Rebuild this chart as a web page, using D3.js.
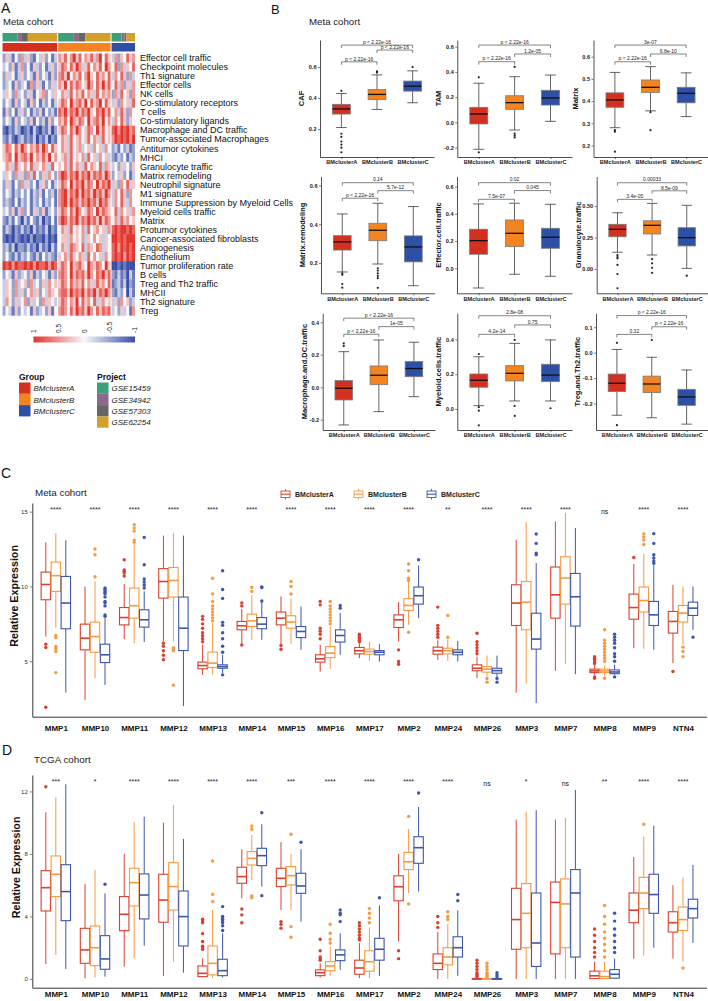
<!DOCTYPE html>
<html>
<head>
<meta charset="utf-8">
<script src="https://cdn.jsdelivr.net/npm/d3@7"></script>
<style>
  body { margin: 0; background: #fff; }
  svg { display: block; font-family: "Liberation Sans", Arial, sans-serif; }
</style>
</head>
<body>
<div id="fig"></div>
<script>
// ---------------- data ----------------
const groups = ["BMclusterA", "BMclusterB", "BMclusterC"];
const projects = ["GSE15459", "GSE34942", "GSE57303", "GSE62254"];
// samples per project inside each group (A, B, C)
const projectCounts = [[70, 22, 28, 139], [74, 21, 33, 120], [48, 13, 9, 41]];

const heatRows = ["Effector cell traffic", "Checkpoint molecules", "Th1 signature", "Effector cells", "NK cells",
  "Co-stimulatory receptors", "T cells", "Co-stimulatory ligands", "Macrophage and DC traffic",
  "Tumor-associated Macrophages", "Antitumor cytokines", "MHCI", "Granulocyte traffic", "Matrix remodeling",
  "Neutrophil signature", "M1 signature", "Immune Suppression by Myeloid Cells", "Myeloid cells traffic", "Matrix",
  "Protumor cytokines", "Cancer-associated fibroblasts", "Angiogenesis", "Endothelium", "Tumor proliferation rate",
  "B cells", "Treg and Th2 traffic", "MHCII", "Th2 signature", "Treg"];
// z-scores coded 0..8 (0 = -1, 4 = 0, 8 = +1), read across each group block
const heatA = ["253142635214352413", "342513624153241352", "253413524315243152", "234152341625314253",
  "354263425314562435", "243152431524132413", "152413524132514231", "243152432514231524", "102132012031021302",
  "213102312130213021", "576475864657386475", "567485675846575846", "465375464735465374", "354263526374253642",
  "253142635241352413", "243132424132514231", "232141324132413241", "342513624153251342", "213142031421302141",
  "132021312031213021", "101021010201102010", "231302213120312031", "242131324213142321", "878687787868778687",
  "243152342513243152", "354263452634253645", "354263524635243654", "364253462534263543", "243152434152342514"];
const heatB = ["657468574657368475", "576475863574657486", "675846574685475647", "658475764586475857",
  "465374657465374656", "576485675847568475", "768576857685476857", "657486576485675846", "576475864576485745",
  "465374564574653745", "465374563453645364", "456374546374536453", "546374653746547365", "687576857685767586",
  "576485768576485768", "678576858675867586", "678586757686758675", "576475864576485765", "687576857686758576",
  "465374546374564536", "455364546354645354", "465376547365476354", "546375465374645364", "576485675486576485",
  "676485767586476857", "576475657465375647", "677586768576857686", "576465847564735645", "676475867586475767"];
const heatC = ["36254736", "47263547", "36475263", "47362536", "26374526", "35264537", "46375264", "36475254",
  "78687867", "68787868", "23142312", "21324132", "34253425", "24352413", "35264735", "36475264", "36475364",
  "47364536", "46375645", "78788787", "88787888", "78687878", "78786878", "00101000", "21312031", "12313021",
  "21324031", "35264523", "34253416"];
const legendTicks = ["1", "0.5", "0", "-0.5", "-1"];

// panel B: 3x3 boxplots, stats per group = [low whisker, q1, median, q3, high whisker]
const bNames = ["CAF", "TAM", "Matrix", "Matrix.remodeling", "Effector.cell.traffic", "Granulocyte.traffic",
  "Macrophage.and.DC.traffic", "Myeloid.cells.traffic", "Treg.and.Th2.traffic"];
const bTicks = [["0.2", "0.4", "0.6"], ["-0.2", "0.0", "0.2", "0.4", "0.6"], ["0.2", "0.3", "0.4", "0.5", "0.6"],
  ["0.2", "0.4", "0.6"], ["0.0", "0.2", "0.4", "0.6"], ["0.00", "0.25", "0.50"],
  ["-0.2", "0.0", "0.2", "0.4"], ["0.0", "0.2", "0.4"], ["-0.2", "-0.1", "0.0", "0.1"]];
const bDomain = [[0.02, 0.775], [-0.275, 0.653], [0.148, 0.675], [0.044, 0.645], [-0.184, 0.673],
  [-0.193, 0.733], [-0.263, 0.455], [-0.121, 0.55], [-0.304, 0.155]];
const bStats = [
  [[0.21, 0.297, 0.33, 0.36, 0.43], [0.327, 0.39, 0.424, 0.455, 0.55], [0.37, 0.445, 0.477, 0.51, 0.576]],
  [[-0.214, -0.013, 0.066, 0.119, 0.31], [-0.061, 0.103, 0.156, 0.211, 0.362], [0.008, 0.137, 0.193, 0.254, 0.375]],
  [[0.28, 0.372, 0.405, 0.437, 0.529], [0.356, 0.439, 0.462, 0.495, 0.555], [0.33, 0.392, 0.435, 0.462, 0.527]],
  [[0.154, 0.267, 0.309, 0.341, 0.453], [0.195, 0.315, 0.369, 0.405, 0.508], [0.083, 0.206, 0.283, 0.34, 0.491]],
  [[-0.145, 0.103, 0.203, 0.287, 0.473], [-0.044, 0.159, 0.257, 0.355, 0.478], [-0.059, 0.147, 0.228, 0.294, 0.47]],
  [[0.133, 0.256, 0.315, 0.355, 0.447], [0.111, 0.278, 0.347, 0.383, 0.521], [0.005, 0.183, 0.249, 0.328, 0.506]],
  [[-0.232, -0.078, -0.006, 0.041, 0.219], [-0.15, 0.016, 0.074, 0.131, 0.291], [-0.058, 0.065, 0.115, 0.158, 0.277]],
  [[0.019, 0.125, 0.165, 0.201, 0.30], [0.046, 0.161, 0.205, 0.249, 0.377], [0.046, 0.157, 0.195, 0.257, 0.397]],
  [[-0.246, -0.153, -0.12, -0.084, 0.013], [-0.256, -0.157, -0.123, -0.092, -0.018], [-0.281, -0.207, -0.174, -0.144, -0.068]]
];
const bOutliers = [
  [[0.447, 0.17, 0.15, 0.12, 0.10, 0.08, 0.05], [0.565, 0.572], [0.60]],
  [[0.357, -0.238], [0.44, -0.09, -0.105, -0.12], []],
  [[0.269, 0.262, 0.172], [0.35, 0.269], []],
  [[0.147, 0.139, 0.092, 0.073], [0.173, 0.161, 0.147, 0.134, 0.122, 0.072], []],
  [[], [], []],
  [[0.11, 0.095, 0.085, 0.032, -0.04, -0.153], [0.079, 0.045, 0.01, -0.03], [-0.053]],
  [[0.27, 0.254], [], []],
  [[0.316, 0.01, -0.01, -0.094], [0.397, 0.017, -0.04], [0.004]],
  [[0.039, -0.285], [0.05], []]
];
// p labels for [A-B, B-C, A-C] and bracket heights
const bPvals = [
  ["p < 2.22e-16", "p < 2.22e-16", "p < 2.22e-16"], ["p < 2.22e-16", "1.2e-05", "p < 2.22e-16"],
  ["p < 2.22e-16", "6.8e-10", "3e-07"], ["p < 2.22e-16", "5.7e-12", "0.14"], ["7.5e-07", "0.045", "0.02"],
  ["3.4e-05", "8.5e-09", "0.00033"], ["p < 2.22e-16", "1e-05", "p < 2.22e-16"], ["4.2e-14", "0.75", "2.8e-08"],
  ["0.32", "p < 2.22e-16", "p < 2.22e-16"]];
const bBracketY = [[0.634, 0.71, 0.742], [0.481, 0.542, 0.613], [0.577, 0.612, 0.652], [0.534, 0.573, 0.614],
  [0.507, 0.571, 0.629], [0.553, 0.621, 0.685], [0.326, 0.373, 0.425], [0.429, 0.483, 0.536], [0.072, 0.102, 0.146]];

// panels C and D
const genes = ["MMP1", "MMP10", "MMP11", "MMP12", "MMP13", "MMP14", "MMP15", "MMP16", "MMP17", "MMP2",
  "MMP24", "MMP26", "MMP3", "MMP7", "MMP8", "MMP9", "NTN4"];
const metaSig = ["****", "****", "****", "****", "****", "****", "****", "****", "****", "****", "**", "****",
  "****", "****", "ns", "****", "****"];
const tcgaSig = ["***", "*", "****", "****", "****", "****", "***", "****", "****", "****", "****", "ns",
  "*", "ns", "**", "****", "****"];
const metaTicks = [5, 10, 15];
const tcgaTicks = [0, 4, 8, 12];
const metaStats = [
  [[6.65, 9.11, 10.13, 10.96, 12.95], [7.25, 9.67, 10.72, 11.63, 13.57], [2.9, 7.17, 8.89, 10.67, 13.08]],
  [[2.4, 5.76, 6.54, 7.48, 10.0], [3.86, 5.6, 6.65, 7.61, 10.33], [3.42, 4.91, 5.43, 6.14, 7.88]],
  [[6.48, 7.43, 7.92, 8.59, 10.16], [6.21, 7.88, 8.71, 9.89, 12.84], [6.28, 7.28, 7.77, 8.44, 9.67]],
  [[6.32, 9.22, 10.33, 11.19, 13.4], [6.32, 9.29, 10.4, 11.27, 13.57], [2.0, 5.71, 7.21, 9.29, 13.4]],
  [[4.09, 4.49, 4.71, 4.94, 6.1], [4.09, 4.58, 4.87, 5.61, 7.55], [4.2, 4.53, 4.64, 4.76, 5.43]],
  [[6.14, 7.1, 7.37, 7.66, 8.5], [6.43, 7.32, 7.7, 8.15, 9.4], [6.43, 7.17, 7.48, 7.92, 9.0]],
  [[6.1, 7.43, 7.88, 8.29, 9.33], [6.16, 7.21, 7.62, 8.04, 9.18], [5.76, 6.58, 6.99, 7.32, 8.66]],
  [[4.31, 4.94, 5.16, 5.43, 6.1], [4.49, 5.24, 5.54, 5.98, 7.32], [5.43, 6.28, 6.72, 7.1, 8.22]],
  [[5.2, 5.49, 5.7, 5.92, 6.2], [5.02, 5.47, 5.65, 5.81, 6.32], [4.98, 5.43, 5.6, 5.71, 6.14]],
  [[6.32, 7.25, 7.77, 8.1, 8.95], [7.43, 8.39, 8.73, 9.18, 10.33], [7.88, 8.82, 9.38, 9.96, 11.41]],
  [[5.09, 5.47, 5.7, 5.94, 6.4], [5.02, 5.49, 5.7, 5.87, 6.45], [4.98, 5.43, 5.6, 5.76, 6.36]],
  [[3.86, 4.36, 4.53, 4.76, 5.31], [3.97, 4.27, 4.47, 4.64, 5.38], [3.93, 4.2, 4.37, 4.53, 5.38]],
  [[2.9, 7.39, 8.89, 10.11, 13.13], [3.5, 7.1, 8.95, 10.33, 14.31], [2.2, 5.81, 6.48, 8.21, 11.56]],
  [[4.35, 7.88, 9.44, 11.3, 14.35], [4.82, 8.82, 10.56, 11.99, 14.92], [4.13, 7.35, 9.31, 10.87, 13.91]],
  [[4.09, 4.24, 4.35, 4.47, 4.76], [4.0, 4.24, 4.35, 4.47, 4.7], [4.09, 4.17, 4.28, 4.42, 4.76]],
  [[5.87, 7.81, 8.59, 9.49, 11.5], [5.83, 8.29, 9.06, 9.96, 12.17], [5.76, 7.39, 8.1, 9.0, 11.45]],
  [[4.87, 6.88, 7.66, 8.33, 10.11], [6.1, 7.62, 8.22, 8.73, 10.0], [7.1, 8.06, 8.55, 8.95, 10.0]]
];
const metaOut = [
  [[6.14, 5.92, 1.92], [6.72, 6.58, 5.98, 5.83, 5.65, 4.24], []],
  [[], [10.65, 12.12, 12.5], [9.9, 9.8, 9.7, 9.6, 9.5, 9.3, 9.0, 8.9, 8.7, 8.1, 8.0]],
  [[11.79, 11.1, 11.0, 10.9, 10.7], [14.13, 13.9, 13.7, 13.1, 12.95], [13.28, 11.45, 10.5, 10.3, 10.1, 9.9]],
  [[6.2, 6.0, 5.7, 5.4, 5.1], [5.9, 5.8, 5.7, 3.4], []],
  [[8.0, 7.8, 7.5, 7.2, 6.9, 6.7, 6.5, 6.3], [10.55, 9.5, 9.0, 8.7, 8.5, 8.3, 8.1, 7.9, 7.7],
    [11.05, 9.8, 9.2, 7.6, 7.4, 6.9, 6.5, 6.0, 5.6, 4.09]],
  [[8.9, 8.7, 6.08], [9.93, 9.67], [9.97, 9.93, 9.03]],
  [[6.05, 5.8], [10.33, 10.0, 9.49], []],
  [[9.0, 8.77, 7.2, 7.0, 6.8, 6.5], [9.0, 8.7, 8.5, 8.3, 8.1, 7.9, 7.7, 7.5], [8.73, 8.55]],
  [[6.8, 6.7, 6.6, 6.5, 6.4, 6.3], [], []],
  [[5.76, 4.98, 4.8], [11.5, 11.05, 10.55, 10.4, 6.94], [11.79]],
  [[8.62, 7.4, 7.2, 7.0, 6.8, 6.6], [8.06, 6.6], []],
  [[6.87, 6.3, 6.1, 5.9, 5.7, 5.5], [3.84, 3.6], [3.85, 3.6]],
  [[], [], [13.51, 12.88, 12.23, 12.12]],
  [[], [], []],
  [[5.3, 5.2, 5.1, 4.95, 4.85, 3.95, 3.86], [7.1, 6.4, 6.2, 6.0, 5.8, 5.6, 5.4, 5.2, 5.0, 3.86],
    [6.8, 6.6, 6.4, 6.2, 5.9, 5.5, 5.3, 5.0, 3.95]],
  [[11.94], [13.51, 13.3, 13.1, 12.8], [13.53, 12.88, 12.12, 11.9, 11.7, 11.55]],
  [[4.31], [5.94, 5.65, 5.31], [6.61]]
];
const tcgaStats = [
  [[0.96, 4.35, 5.84, 6.93, 10.66], [1.54, 5.27, 6.7, 7.87, 11.62], [0.64, 3.73, 5.59, 7.31, 12.46]],
  [[0.04, 1.0, 1.86, 3.24, 6.08], [0.1, 0.85, 2.0, 3.39, 6.97], [0.15, 0.62, 1.28, 2.77, 5.48]],
  [[0.79, 3.09, 4.14, 5.27, 8.0], [1.32, 4.67, 6.16, 7.08, 10.02], [2.13, 3.84, 5.37, 6.72, 10.38]],
  [[0.19, 3.63, 5.05, 6.7, 10.0], [1.11, 4.41, 5.91, 7.44, 11.13], [0.4, 2.11, 3.99, 5.63, 8.96]],
  [[0.1, 0.15, 0.36, 0.83, 1.32], [0.08, 0.26, 1.0, 2.11, 4.41], [0.1, 0.21, 0.53, 1.26, 2.92]],
  [[5.16, 6.12, 6.55, 7.15, 8.3], [6.33, 7.29, 7.72, 8.15, 9.21], [5.91, 7.25, 7.89, 8.36, 9.9]],
  [[4.41, 5.91, 6.44, 7.08, 8.75], [4.41, 6.01, 6.61, 7.19, 8.0], [3.67, 5.48, 5.95, 6.76, 8.3]],
  [[0.1, 0.21, 0.4, 0.58, 1.0], [0.19, 0.53, 0.83, 1.11, 2.07], [0.58, 1.17, 1.54, 1.86, 2.92]],
  [[0.05, 0.3, 0.7, 1.2, 2.3], [0.05, 0.5, 1.1, 1.8, 3.3], [0.2, 1.2, 1.9, 2.6, 4.7]],
  [[2.4, 5.0, 5.9, 6.6, 8.0], [5.5, 7.0, 7.5, 8.1, 9.6], [5.6, 7.4, 8.4, 9.1, 11.0]],
  [[0.0, 0.6, 1.0, 1.6, 3.0], [0.0, 0.9, 1.4, 2.0, 3.5], [0.2, 1.4, 2.0, 2.7, 4.4]],
  [[0, 0, 0.01, 0.03, 0.06], [0, 0, 0.01, 0.03, 0.06], [0, 0, 0.01, 0.03, 0.05]],
  [[0.0, 1.9, 3.8, 5.8, 10.2], [0.0, 2.0, 4.2, 6.1, 10.7], [0.0, 0.8, 2.3, 5.5, 10.8]],
  [[0.0, 1.6, 4.9, 6.2, 10.2], [0.0, 2.0, 4.8, 6.4, 10.3], [0.0, 1.4, 5.5, 7.0, 12.1]],
  [[0, 0.02, 0.2, 0.5, 1.1], [0, 0.02, 0.15, 0.5, 1.1], [0, 0.05, 0.3, 0.6, 1.3]],
  [[1.3, 3.6, 4.4, 5.5, 7.8], [1.5, 4.5, 5.5, 6.5, 9.1], [2.0, 4.2, 5.4, 6.7, 9.8]],
  [[1.3, 3.0, 3.6, 4.3, 6.0], [1.1, 3.1, 3.8, 4.6, 6.5], [2.3, 3.9, 4.5, 5.1, 7.3]]
];
const tcgaOut = [
  [[12.3], [], []],
  [[], [], [6.06]],
  [[], [], []],
  [[], [], []],
  [[3.82, 3.7, 3.6, 2.9, 2.4, 2.1, 2.0, 1.9], [7.55, 5.42, 4.95], [4.63, 4.0, 3.9, 3.8, 3.7, 3.6, 3.4, 3.1]],
  [[4.48, 4.1, 3.6], [9.79, 9.58, 5.31, 5.2], [10.64, 5.33]],
  [[3.67, 3.5, 3.25], [9.26, 3.35, 2.67], [8.75]],
  [[2.54, 1.8, 1.4, 1.3, 1.2], [3.5, 2.92, 2.54, 2.3], [4.41, 4.2, 4.1, 3.67]],
  [[3.6, 3.4, 3.2, 3.0, 2.8, 2.6, 2.5], [4.5, 4.2, 3.9, 3.6], [5.2]],
  [[1.8, 1.3], [10.4, 4.8], [11.9]],
  [[4.0, 3.6, 3.3], [4.3, 4.0, 3.8], [5.4, 5.0]],
  [[1.2, 1.0, 0.8, 0.6, 0.4, 0.3, 0.2, 0.12], [1.0, 0.8, 0.6, 0.4, 0.3, 0.2, 0.12], [0.4, 0.25, 0.12]],
  [[], [], []],
  [[], [], []],
  [[3.2, 2.8, 2.4, 2.0, 1.7, 1.4], [4.7, 4.0, 3.5, 3.0, 2.6, 2.2, 1.8, 1.4], [4.2, 3.7, 3.2, 2.8, 2.4, 2.0, 1.7]],
  [[], [9.9], []],
  [[], [0.7], []]
];

// ---------------- drawing ----------------
const FONT = "'Liberation Sans', Arial, sans-serif";
const groupFill = ["#D3301F", "#F4841F", "#2E4FA6"];
const groupLine = ["#D8412F", "#F59A40", "#3D56AE"];
const projectFill = ["#3E9F7B", "#8D6A8D", "#666666", "#D3A02E"];
const heatColor = d3.scaleLinear().domain([-1, 0, 1]).range(["#3A4EA6", "#F7F7F7", "#E3342C"]);

const svg = d3.select("#fig").append("svg").attr("width", 708).attr("height", 1001)
  .attr("font-family", FONT);

function label(x, y, s, size, o = {}) {
  const t = svg.append("text").attr("x", x).attr("y", y).text(s)
    .attr("font-size", size).attr("fill", o.fill || "#111");
  if (o.weight) t.attr("font-weight", o.weight);
  if (o.style) t.attr("font-style", o.style);
  if (o.anchor) t.attr("text-anchor", o.anchor);
  if (o.rotate) t.attr("transform", `rotate(${o.rotate},${x},${y})`);
  return t;
}

// ===== Panel A: heatmap =====
label(1, 13, "A", 14);
label(3, 25, "Meta cohort", 9.5, { fill: "#222" });

const hx0 = 2.5, hx1 = 135, gap = 1;
const totals = projectCounts.map(d => d3.sum(d));
const perSample = (hx1 - hx0 - gap * 2) / d3.sum(totals);
let cursor = hx0;
const gScales = totals.map(n => {
  const s = d3.scaleLinear().domain([0, n]).range([cursor, cursor + n * perSample]);
  cursor += n * perSample + gap;
  return s;
});

// project + group annotation bars
projectCounts.forEach((counts, gi) => {
  let acc = 0;
  counts.forEach((n, pi) => {
    svg.append("rect").attr("x", gScales[gi](acc)).attr("y", 33)
      .attr("width", gScales[gi](acc + n) - gScales[gi](acc)).attr("height", 8.5)
      .attr("fill", projectFill[pi]);
    acc += n;
  });
  svg.append("rect").attr("x", gScales[gi](0)).attr("y", 43)
    .attr("width", gScales[gi](totals[gi]) - gScales[gi](0)).attr("height", 8.5)
    .attr("fill", groupFill[gi]);
});

const rowY = d3.scaleBand().domain(heatRows).range([53.5, 53.5 + 9.03 * heatRows.length]);
[heatA, heatB, heatC].forEach((block, gi) => {
  const gs = gScales[gi];
  block.forEach((str, ri) => {
    const vals = str.split("").map(c => (+c - 4) / 4);
    const cw = (gs(totals[gi]) - gs(0)) / vals.length;
    svg.append("g").selectAll("rect").data(vals).join("rect")
      .attr("x", (d, k) => gs(0) + k * cw)
      .attr("y", rowY(heatRows[ri]))
      .attr("width", (d, k) => k === vals.length - 1 ? cw : cw + 0.4)
      .attr("height", rowY.bandwidth() + 0.3)
      .attr("fill", d => heatColor(d));
  });
});
svg.append("g").selectAll("text").data(heatRows).join("text")
  .attr("x", 140).attr("y", d => rowY(d) + rowY.bandwidth() / 2 + 3.2)
  .attr("font-size", 9).attr("fill", "#111").text(d => d);

// colour key
const grad = svg.append("defs").append("linearGradient").attr("id", "hk");
[[0, 1], [0.5, 0], [1, -1]].forEach(([o, v]) =>
  grad.append("stop").attr("offset", o).attr("stop-color", heatColor(v)));
const keyX = d3.scaleLinear().domain([1, -1]).range([33.5, 135]);
svg.append("rect").attr("x", keyX(1)).attr("y", 336.5).attr("width", keyX(-1) - keyX(1))
  .attr("height", 6).attr("fill", "url(#hk)");
legendTicks.forEach(t => label(keyX(+t) + 2.3, 333, t, 6.5, { rotate: -90, fill: "#222" }));

// group / project legends
label(19, 380, "Group", 8.5, { weight: "bold" });
groups.forEach((g, i) => {
  svg.append("rect").attr("x", 19).attr("y", 382.5 + i * 11.3).attr("width", 11.5).attr("height", 11.3).attr("fill", groupFill[i]);
  label(33.5, 391.3 + i * 11.3, g, 8, { style: "italic", fill: "#222" });
});
label(97, 380, "Project", 8.5, { weight: "bold" });
projects.forEach((p, i) => {
  svg.append("rect").attr("x", 97).attr("y", 382.5 + i * 11.3).attr("width", 11.5).attr("height", 11.3).attr("fill", projectFill[i]);
  label(111.5, 391.3 + i * 11.3, p, 8, { style: "italic", fill: "#222" });
});

// ===== Panel B: 3x3 boxplots =====
label(271, 14, "B", 13);
label(309, 25, "Meta cohort", 9.7, { fill: "#222" });

const bLayout = [
  { x0: 320, x1: 434, y0: 40, y1: 157 }, { x0: 457.3, x1: 572, y0: 40, y1: 157 }, { x0: 593.5, x1: 707.5, y0: 40, y1: 157 },
  { x0: 321, x1: 434.6, y0: 176.7, y1: 293.3 }, { x0: 457, x1: 572, y0: 176.7, y1: 293.3 }, { x0: 596.7, x1: 707.5, y0: 176.7, y1: 293.3 },
  { x0: 322.7, x1: 435, y0: 313.3, y1: 430 }, { x0: 457.3, x1: 572, y0: 313.3, y1: 430 }, { x0: 596, x1: 707.5, y0: 313.3, y1: 430 }
];

bNames.forEach((name, i) => {
  const L = bLayout[i];
  const g = svg.append("g");
  const x = d3.scalePoint().domain(groups).range([L.x0, L.x1]).padding(0.6);
  const y = d3.scaleLinear().domain(bDomain[i]).range([L.y1, L.y0]);
  const bw = x.step() * 0.5, capW = x.step() * 0.3;

  const ya = g.append("g").attr("transform", `translate(${L.x0},0)`)
    .call(d3.axisLeft(y).tickValues(bTicks[i].map(Number)).tickFormat((d, j) => bTicks[i][j])
      .tickSize(2).tickSizeOuter(0).tickPadding(1.5));
  const xa = g.append("g").attr("transform", `translate(0,${L.y1})`)
    .call(d3.axisBottom(x).tickSize(2).tickSizeOuter(0).tickPadding(1.5));
  [ya, xa].forEach(a => {
    a.attr("font-family", FONT).attr("font-size", 5.6).attr("font-weight", "bold");
    a.selectAll("text").attr("fill", "#222");
    a.selectAll("line").attr("stroke", "#222").attr("stroke-width", 0.6);
    a.select(".domain").attr("stroke", "#222").attr("stroke-width", 0.8);
  });
  // axis title
  const ty = (L.y0 + L.y1) / 2;
  g.append("text").attr("transform", `translate(${L.x0 - 16},${ty}) rotate(-90)`)
    .attr("text-anchor", "middle").attr("font-size", 7.5).attr("font-weight", "bold").attr("fill", "#111").text(name);

  groups.forEach((grp, k) => {
    const [lo, q1, med, q3, hi] = bStats[i][k];
    const cx = x(grp);
    g.append("line").attr("x1", cx).attr("x2", cx).attr("y1", y(lo)).attr("y2", y(hi))
      .attr("stroke", "#222").attr("stroke-width", 0.7);
    [lo, hi].forEach(v => g.append("line").attr("x1", cx - capW / 2).attr("x2", cx + capW / 2)
      .attr("y1", y(v)).attr("y2", y(v)).attr("stroke", "#222").attr("stroke-width", 0.7));
    g.append("rect").attr("x", cx - bw / 2).attr("y", y(q3)).attr("width", bw).attr("height", y(q1) - y(q3))
      .attr("fill", groupFill[k]).attr("stroke", "#7a7a7a").attr("stroke-width", 0.8);
    g.append("line").attr("x1", cx - bw / 2).attr("x2", cx + bw / 2).attr("y1", y(med)).attr("y2", y(med))
      .attr("stroke", "#111").attr("stroke-width", 1.3);
    g.append("g").selectAll("circle").data(bOutliers[i][k]).join("circle")
      .attr("cx", cx).attr("cy", d => y(d)).attr("r", 1.1).attr("fill", "#222");
  });

  // comparison brackets
  const pairs = [[0, 1], [1, 2], [0, 2]];
  pairs.forEach(([a, b], j) => {
    const xa1 = x(groups[a]), xb1 = x(groups[b]), yy = y(bBracketY[i][j]);
    g.append("path").attr("d", `M${xa1},${yy + 3}V${yy}H${xb1}V${yy + 3}`)
      .attr("fill", "none").attr("stroke", "#333").attr("stroke-width", 0.6);
    g.append("text").attr("x", (xa1 + xb1) / 2).attr("y", yy - 1.3).attr("text-anchor", "middle")
      .attr("font-size", 5).attr("fill", "#222").text(bPvals[i][j]);
  });
});

// ===== Panels C and D: MMP boxplots =====
function drawMMP(cfg) {
  const g = svg.append("g");
  const x = d3.scalePoint().domain(genes).range([cfg.x0, cfg.x1]).padding(0.6);
  const y = d3.scaleLinear().domain(cfg.domain).range([cfg.y1, cfg.y0]);
  const dodge = d3.scalePoint().domain(groups).range([-10, 10]);
  const bw = 9.4;

  const ya = g.append("g").attr("transform", `translate(${cfg.x0},0)`)
    .call(d3.axisLeft(y).tickValues(cfg.ticks).tickSize(2.5).tickSizeOuter(0).tickPadding(2));
  const xa = g.append("g").attr("transform", `translate(0,${cfg.y1})`)
    .call(d3.axisBottom(x).tickSize(0).tickSizeOuter(0).tickPadding(cfg.xPad));
  ya.attr("font-family", FONT).attr("font-size", 6).selectAll("text").attr("fill", "#333");
  xa.attr("font-family", FONT).attr("font-size", 8).attr("font-weight", "bold").selectAll("text").attr("fill", "#111");
  [ya, xa].forEach(a => {
    a.selectAll("line").attr("stroke", "#333").attr("stroke-width", 0.6);
    a.select(".domain").attr("stroke", "#222").attr("stroke-width", 0.9);
  });
  g.append("text").attr("transform", `translate(${cfg.titleX},${(cfg.y0 + cfg.y1) / 2 - 14}) rotate(-90)`)
    .attr("text-anchor", "middle").attr("font-size", 10.7).attr("font-weight", "bold").attr("fill", "#111")
    .text("Relative Expression");

  genes.forEach((gene, gi) => {
    const ns = cfg.sig[gi] === "ns";
    g.append("text").attr("x", x(gene)).attr("y", ns ? cfg.sigY + 2.5 : cfg.sigY + 0.8)
      .attr("text-anchor", "middle").attr("font-size", 7).attr("fill", "#222").text(cfg.sig[gi]);
    groups.forEach((grp, k) => {
      const [lo, q1, med, q3, hi] = cfg.stats[gi][k];
      const cx = x(gene) + dodge(grp), col = groupLine[k];
      g.append("line").attr("x1", cx).attr("x2", cx).attr("y1", y(lo)).attr("y2", y(q1))
        .attr("stroke", col).attr("stroke-width", 1);
      g.append("line").attr("x1", cx).attr("x2", cx).attr("y1", y(q3)).attr("y2", y(hi))
        .attr("stroke", col).attr("stroke-width", 1);
      g.append("rect").attr("x", cx - bw / 2).attr("y", y(q3)).attr("width", bw)
        .attr("height", Math.max(y(q1) - y(q3), 0.8))
        .attr("fill", "#fff").attr("stroke", col).attr("stroke-width", 1.1);
      g.append("line").attr("x1", cx - bw / 2).attr("x2", cx + bw / 2).attr("y1", y(med)).attr("y2", y(med))
        .attr("stroke", col).attr("stroke-width", 1.6);
      g.append("g").selectAll("circle").data(cfg.outliers[gi][k]).join("circle")
        .attr("cx", cx).attr("cy", d => y(d)).attr("r", 1.7).attr("fill", col);
    });
  });
}

label(1, 478, "C", 14);
label(35, 496, "Meta cohort", 9.8, { fill: "#222" });
drawMMP({ x0: 32.3, x1: 706.5, y0: 503, y1: 716.7, domain: [1.29, 15.58], ticks: metaTicks,
  stats: metaStats, outliers: metaOut, sig: metaSig, sigY: 511, titleX: 18, xPad: 8.5 });

// legend for C
const legX = [281, 354, 427];
groups.forEach((g, i) => {
  const lx = legX[i], col = groupLine[i];
  svg.append("line").attr("x1", lx + 4.5).attr("x2", lx + 4.5).attr("y1", 489).attr("y2", 499.5)
    .attr("stroke", col).attr("stroke-width", 0.9);
  svg.append("rect").attr("x", lx).attr("y", 491).attr("width", 9).attr("height", 6.5)
    .attr("fill", "#fff").attr("stroke", col).attr("stroke-width", 0.9);
  svg.append("line").attr("x1", lx).attr("x2", lx + 9).attr("y1", 494.2).attr("y2", 494.2)
    .attr("stroke", col).attr("stroke-width", 1.1);
  label(lx + 14, 497, g, 7, { weight: "bold", fill: "#222" });
});

label(2, 755, "D", 14);
label(34, 763, "TCGA cohort", 9.8, { fill: "#222" });
drawMMP({ x0: 32.3, x1: 706.5, y0: 775, y1: 987.7, domain: [-0.56, 13.05], ticks: tcgaTicks,
  stats: tcgaStats, outliers: tcgaOut, sig: tcgaSig, sigY: 783, titleX: 19.5, xPad: 4 });
</script>
</body>
</html>
